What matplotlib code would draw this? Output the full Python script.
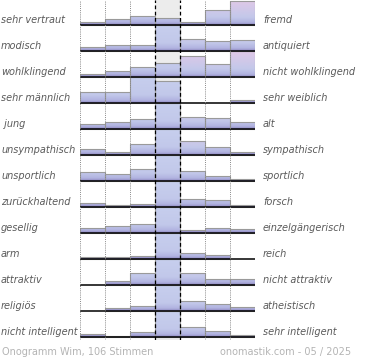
import numpy as np
import matplotlib.pyplot as plt
from matplotlib.patches import Rectangle
from matplotlib.colors import to_rgb

# Onogramm data: share per scale step (1.0 = full row height)
left_labels = ["sehr vertraut", "modisch", "wohlklingend", "sehr männlich", " jung",
               "unsympathisch", "unsportlich", "zurückhaltend", "gesellig", "arm",
               "attraktiv", "religiös", "nicht intelligent"]
right_labels = ["fremd", "antiquiert", "nicht wohlklingend", "sehr weiblich", "alt",
                "sympathisch", "sportlich", "forsch", "einzelgängerisch", "reich",
                "nicht attraktiv", "atheistisch", "sehr intelligent"]
row1 = [0.13, 0.22, 0.35, 0.26, 0.13, 0.59, 0.92]
row2 = [0.15, 0.23, 0.23, 1.00, 0.45, 0.37, 0.43]
row3 = [0.10, 0.24, 0.37, 0.55, 0.80, 0.51, 1.00]
row4 = [0.41, 0.41, 1.00, 0.85, 0.00, 0.00, 0.10]
row5 = [0.19, 0.27, 0.37, 1.00, 0.46, 0.41, 0.26]
row6 = [0.22, 0.10, 0.41, 1.00, 0.53, 0.32, 0.10]
row7 = [0.36, 0.28, 0.47, 1.00, 0.38, 0.19, 0.09]
row8 = [0.17, 0.07, 0.13, 1.00, 0.31, 0.27, 0.09]
row9 = [0.18, 0.26, 0.36, 1.00, 0.12, 0.18, 0.17]
row10 = [0.06, 0.06, 0.12, 1.00, 0.23, 0.15, 0.00]
row11 = [0.00, 0.17, 0.47, 1.00, 0.47, 0.24, 0.24]
row12 = [0.00, 0.13, 0.19, 1.00, 0.38, 0.27, 0.15]
row13 = [0.13, 0.05, 0.18, 1.00, 0.40, 0.22, 0.08]
rows = [row1, row2, row3, row4, row5, row6, row7, row8, row9, row10, row11, row12, row13]
footer_left = "Onogramm Wim, 106 Stimmen"
footer_right = "onomastik.com - 05 / 2025"

n_rows = len(rows)
n_cols = 7


def gradient(stops, n=128):
    pos = np.linspace(0, 1, n)
    xs = [s[0] for s in stops]
    cols = np.array([to_rgb(s[1]) for s in stops])
    img = np.stack([np.interp(pos, xs, cols[:, k]) for k in range(3)], axis=-1)
    return img[:, None, :]


grad_blue = gradient([(0, '#8b83bd'), (0.10, '#b1b3e0'), (0.3, '#c2c8ea'), (1, '#c7cfee')])
grad_pink = gradient([(0, '#8b83bd'), (0.10, '#b1b3e0'), (0.3, '#c3c8ea'), (1, '#e2c8e7')])

fig = plt.figure(figsize=(3.7, 3.6), dpi=100)
ax = fig.add_axes([80 / 370, 20 / 360, 175 / 370, 340 / 360])
ax.set_xlim(0, n_cols)
ax.set_ylim(-0.115, 12.96)
ax.axis('off')

# neutral column background
ax.axvspan(3, 4, color='#ececec', zorder=0, lw=0)

for i, vals in enumerate(rows):
    base = n_rows - 1 - i
    for j, v in enumerate(vals):
        h = min(v, 1.0)
        if h <= 0:
            continue
        rect = Rectangle((j, base), 1, h, facecolor='none', edgecolor='#9a9a9a',
                         lw=0.8, zorder=3)
        ax.add_patch(rect)
        g = grad_pink if j >= 4 else grad_blue
        im = ax.imshow(g, extent=[j, j + 1, base, base + 1], origin='lower',
                       aspect='auto', zorder=2, interpolation='bilinear')
        im.set_clip_path(rect)
    ax.plot([0, n_cols], [base, base], color='black', lw=1.1, zorder=4,
            solid_capstyle='butt')
    ax.text(-3.16, base + 0.2, left_labels[i], fontsize=7, style='italic',
            color='#5a5a5a', va='center', ha='left', clip_on=False)
    ax.text(7.32, base + 0.2, right_labels[i], fontsize=7, style='italic',
            color='#5a5a5a', va='center', ha='left', clip_on=False)

# grid lines between scale steps
for x in [0, 1, 2, 5, 6, 7]:
    ax.axvline(x, color='#888888', lw=0.7, ls=(0, (1, 1.2)), zorder=5)
for x in [3, 4]:
    ax.axvline(x, color='black', lw=0.9, ls=(0, (3, 2)), zorder=5)

ax.set_xlim(0, n_cols)
ax.set_ylim(-0.115, 12.96)

fig.text(2 / 370, 1 - 352 / 360, footer_left, fontsize=7, color='#b4b4b4',
         va='center', ha='left')
fig.text(220 / 370, 1 - 352 / 360, footer_right, fontsize=7, color='#b4b4b4',
         va='center', ha='left')

fig.savefig("out.png", dpi=100)
